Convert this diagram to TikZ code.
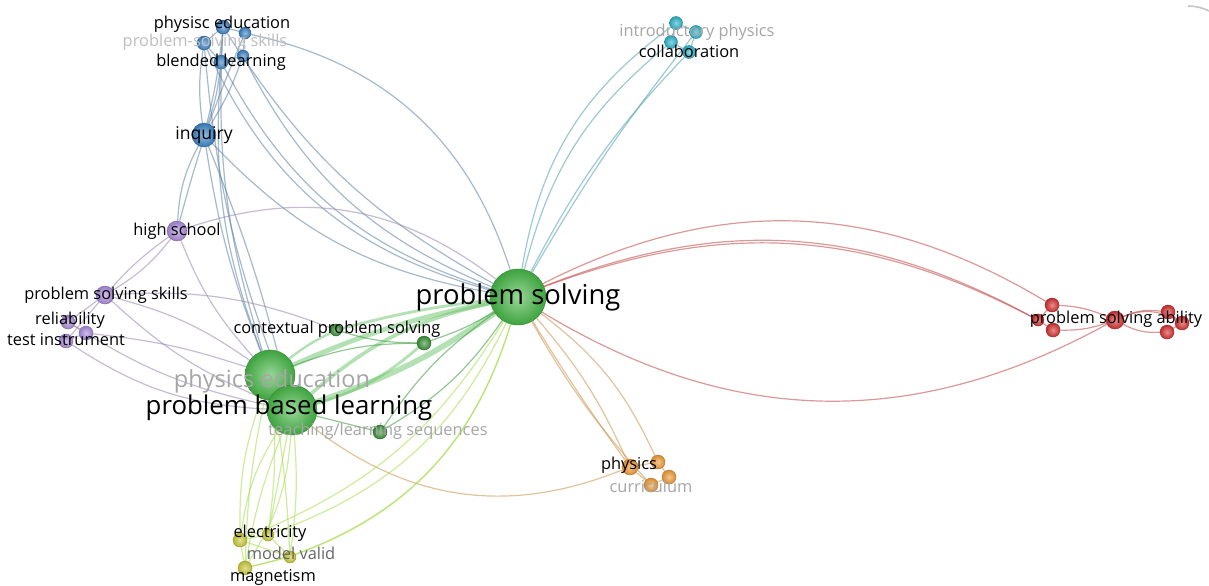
\documentclass[tikz,border=0pt]{standalone}
\usepackage{fontspec}
\setmainfont{Open Sans}
\usepackage{tikz}
\usetikzlibrary{positioning,backgrounds}
\definecolor{vosgreen}{HTML}{45B545}
\definecolor{vosblue}{HTML}{3A82C4}
\definecolor{voscyan}{HTML}{2BB3C9}
\definecolor{vospurple}{HTML}{A98AD9}
\definecolor{vosred}{HTML}{D2302F}
\definecolor{vosorange}{HTML}{EE9A35}
\definecolor{vosyellow}{HTML}{C9C93A}
\colorlet{lgreen}{vosgreen!85!black}
\colorlet{lblue}{vosblue!50!gray}
\colorlet{lcyan}{voscyan!60!gray}
\colorlet{lpurple}{vospurple!60!gray}
\colorlet{lred}{vosred!75!gray}
\colorlet{lorange}{vosorange!70!gray}
\colorlet{lyellow}{vosyellow!75!green!85!white}

\begin{document}
\begin{tikzpicture}[
x=0.5pt,y=0.5pt,
bub/.style={circle,inner sep=0pt,draw=#1!75!black,line width=0.2pt,
inner color=#1!55!white,outer color=#1!90!black},
lab/.style={inner sep=0pt,font=\fontsize{8.2}{9}\selectfont,text=black},
faint/.style={lab,text=gray!70},
lnk/.style={draw=#1,line width=0.6pt,opacity=0.55},
thk/.style={draw=vosgreen!80,line width=#1,opacity=0.5}
]
\useasboundingbox (0,0) rectangle (1209,-585);

\node[bub=vosgreen,minimum size=28pt] (ps) at (518,-297) {};
\node[bub=vosgreen,minimum size=25pt] (pe) at (270,-375) {};
\node[bub=vosgreen,minimum size=25pt] (pbl) at (292,-410) {};
\node[bub=vosgreen!80!black,minimum size=6pt] (cps) at (336,-330) {};
\node[bub=vosgreen!80!black,minimum size=7pt] (ctx) at (424,-343) {};
\node[bub=vosgreen!80!black,minimum size=7pt] (tls) at (380,-432) {};

\node[bub=vosblue,minimum size=12pt] (inq) at (204,-135) {};
\node[bub=vosblue,minimum size=7pt] (phe) at (223,-27) {};
\node[bub=vosblue,minimum size=6pt] (bx) at (245,-33) {};
\node[bub=vosblue,minimum size=7pt] (pss) at (204,-43) {};
\node[bub=vosblue,minimum size=6pt] (by) at (243,-56) {};
\node[bub=vosblue,minimum size=7pt] (bl) at (221,-62) {};

\node[bub=voscyan,minimum size=6.5pt] (ca) at (676,-23) {};
\node[bub=voscyan,minimum size=6.5pt] (ip) at (696,-32) {};
\node[bub=voscyan,minimum size=6.5pt] (cb) at (671,-42) {};
\node[bub=voscyan,minimum size=6.5pt] (col) at (689,-52) {};

\node[bub=vospurple,minimum size=10pt] (hs) at (177,-231) {};
\node[bub=vospurple,minimum size=9pt] (pssk) at (105,-295) {};
\node[bub=vospurple,minimum size=7pt] (rel) at (68,-322) {};
\node[bub=vospurple,minimum size=7pt] (ti) at (66,-341) {};
\node[bub=vospurple,minimum size=7pt] (pz) at (86,-333) {};

\node[bub=vosorange,minimum size=8pt] (phy) at (630,-467) {};
\node[bub=vosorange,minimum size=7pt] (oa) at (658,-462) {};
\node[bub=vosorange,minimum size=7pt] (ob) at (669,-477) {};
\node[bub=vosorange,minimum size=7pt] (cur) at (651,-485) {};

\node[bub=vosred,minimum size=6pt] (r0) at (1038,-320) {};
\node[bub=vosred,minimum size=7pt] (ra) at (1052,-305) {};
\node[bub=vosred,minimum size=7pt] (rb) at (1053,-330) {};
\node[bub=vosred,minimum size=9pt] (psa) at (1115,-320) {};
\node[bub=vosred,minimum size=7pt] (rc) at (1168,-312) {};
\node[bub=vosred,minimum size=7pt] (rd) at (1182,-323) {};
\node[bub=vosred,minimum size=7pt] (re) at (1167,-332) {};

\node[bub=vosyellow,minimum size=7pt] (ele) at (240,-540) {};
\node[bub=vosyellow,minimum size=6pt] (ya) at (268,-535) {};
\node[bub=vosyellow,minimum size=6pt] (mv) at (290,-557) {};
\node[bub=vosyellow,minimum size=7pt] (mag) at (245,-568) {};

\begin{pgfonlayer}{background}
\fill[white] (0,0) rectangle (1209,-585);
\draw[gray!45,line width=0.8pt] (1188,-6) to[bend left=12] (1209,-11);
\draw[thk=2.4pt] (ps) to[bend right=6] (pe);
\draw[thk=2.8pt] (ps) to[bend left=8] (pbl);
\draw[thk=1.8pt] (ps) to[bend right=14] (pbl);
\draw[thk=1.4pt] (ps) to[bend right=4] (cps);
\draw[thk=1.8pt] (pe) to (pbl);
\draw[thk=1.2pt] (pe) to[bend left=6] (cps);
\draw[thk=1.4pt] (pbl) to[bend right=12] (ctx);
\draw[lnk=lgreen] (ps) to[bend left=6] (ctx);
\draw[lnk=lgreen] (ps) to[bend left=12] (tls);
\draw[lnk=lgreen] (ps) to[bend right=10] (tls);
\draw[lnk=lgreen] (pbl) to (tls);
\draw[lnk=lgreen] (pe) to[bend left=10] (ctx);
\draw[lnk=lgreen] (cps) to[bend right=8] (ctx);

\draw[lnk=lblue] (inq) to[bend right=18] (ps);
\draw[lnk=lblue] (bl) to[bend right=22] (ps);
\draw[lnk=lblue] (by) to[bend right=20] (ps);
\draw[lnk=lblue] (pss) to[bend right=25] (ps);
\draw[lnk=lblue] (phe) to[bend right=14] (ps);
\draw[lnk=lblue] (bx) to[bend left=30] (ps);
\draw[lnk=lblue] (bl) to[bend right=12] (pe);
\draw[lnk=lblue] (pss) to[bend right=8] (pbl);
\draw[lnk=lblue] (phe) to[bend right=10] (pe);
\draw[lnk=lblue] (inq) to[bend right=6] (pe);
\draw[lnk=lblue] (inq) to[bend left=4] (pbl);
\draw[lnk=lblue] (bl) to[bend left=6] (inq);
\draw[lnk=lblue] (pss) to[bend right=8] (inq);
\draw[lnk=lblue] (phe) to[bend left=4] (inq);
\draw[lnk=lblue] (by) to[bend left=6] (inq);
\draw[lnk=lblue] (bx) to[bend right=4] (hs);
\draw[lnk=lblue] (phe) to (bx);
\draw[lnk=lblue] (phe) to (pss);
\draw[lnk=lblue] (pss) to (bl);
\draw[lnk=lblue] (bx) to (by);
\draw[lnk=lblue] (by) to (bl);
\draw[lnk=lblue] (phe) to (bl);
\draw[lnk=lblue] (inq) to[bend right=12] (hs);

\draw[lnk=lcyan] (ps) to[bend left=22] (ca);
\draw[lnk=lcyan] (ps) to[bend left=18] (cb);
\draw[lnk=lcyan] (ps) to[bend left=8] (col);
\draw[lnk=lcyan] (ps) to[bend left=4] (ip);
\draw[lnk=lcyan] (ca) to (ip);
\draw[lnk=lcyan] (ca) to (cb);
\draw[lnk=lcyan] (cb) to (col);
\draw[lnk=lcyan] (ip) to (col);

\draw[lnk=lpurple] (hs) to[bend left=28] (ps);
\draw[lnk=lpurple] (hs) to[bend right=10] (pe);
\draw[lnk=lpurple] (hs) to[bend right=6] (pssk);
\draw[lnk=lpurple] (hs) to[bend left=10] (pssk);
\draw[lnk=lpurple] (pssk) to[bend left=10] (pe);
\draw[lnk=lpurple] (pssk) to[bend right=10] (pbl);
\draw[lnk=lpurple] (pssk) to[bend left=12] (cps);
\draw[lnk=lpurple] (pz) to[bend left=6] (pe);
\draw[lnk=lpurple] (rel) to[bend right=10] (pbl);
\draw[lnk=lpurple] (ti) to[bend right=15] (pbl);
\draw[lnk=lpurple] (pssk) to (rel);
\draw[lnk=lpurple] (pssk) to (ti);
\draw[lnk=lpurple] (rel) to (pz);
\draw[lnk=lpurple] (ti) to (pz);

\draw[lnk=lorange] (ps) to[bend left=8] (phy);
\draw[lnk=lorange] (ps) to[bend left=14] (oa);
\draw[lnk=lorange] (ps) to[bend right=6] (cur);
\draw[lnk=lorange] (ps) to[bend right=2] (phy);
\draw[lnk=lorange] (pbl) to[bend right=30] (phy);
\draw[lnk=lorange] (phy) to (oa);
\draw[lnk=lorange] (oa) to (ob);
\draw[lnk=lorange] (ob) to (cur);
\draw[lnk=lorange] (phy) to (cur);

\draw[lnk=lred] (ps) to[bend left=29] (ra);
\draw[lnk=lred] (ps) to[bend left=25] (r0);
\draw[lnk=lred] (ps) to[bend left=24] (r0);
\draw[lnk=lred] (ps) to[bend right=30] (psa);
\draw[lnk=lred] (ra) to[bend left=10] (psa);
\draw[lnk=lred] (rb) to[bend right=10] (psa);
\draw[lnk=lred] (r0) to (ra);
\draw[lnk=lred] (r0) to (rb);
\draw[lnk=lred] (psa) to[bend left=15] (rc);
\draw[lnk=lred] (psa) to[bend right=15] (re);
\draw[lnk=lred] (psa) to[bend left=25] (rd);
\draw[lnk=lred] (rc) to (rd);
\draw[lnk=lred] (re) to (rd);

\draw[lnk=lyellow] (ps) to[bend left=18] (ele);
\draw[lnk=lyellow] (ps) to[bend left=22] (ya);
\draw[lnk=lyellow] (ps) to[bend left=26] (mv);
\draw[lnk=lyellow] (ps) to[bend left=30] (mag);
\draw[lnk=lyellow] (pe) to[bend right=10] (ele);
\draw[lnk=lyellow] (pe) to[bend right=5] (mag);
\draw[lnk=lyellow] (pe) to[bend left=6] (ya);
\draw[lnk=lyellow] (pe) to[bend left=3] (mv);
\draw[lnk=lyellow] (pbl) to[bend right=12] (ele);
\draw[lnk=lyellow] (pbl) to[bend right=6] (mag);
\draw[lnk=lyellow] (pbl) to (ya);
\draw[lnk=lyellow] (pbl) to[bend left=6] (mv);
\draw[lnk=lyellow] (pbl) to[bend left=14] (mag);
\draw[lnk=lyellow] (ele) to (ya);
\draw[lnk=lyellow] (ele) to (mag);
\draw[lnk=lyellow] (ya) to (mv);
\draw[lnk=lyellow] (mv) to (mag);
\draw[lnk=lyellow] (ele) to (mv);
\end{pgfonlayer}

\node[lab,font=\fontsize{13.7}{15}\selectfont] (ps-l) at (518,-297) {problem solving};
\node[faint,font=\fontsize{11.8}{13}\selectfont] (pe-l) at (272,-381) {physics education};
\node[lab,font=\fontsize{12.9}{14}\selectfont] (pbl-l) at (289,-408) {problem based learning};
\node[lab] (cps-l) at (337,-329) {contextual problem solving};
\node[faint] (tls-l) at (378,-431) {teaching/learning sequences};
\node[lab,font=\fontsize{8.8}{10}\selectfont] (inq-l) at (204,-135) {inquiry};
\node[lab] (phe-l) at (222,-24) {physisc education};
\node[faint,text=gray!50] (pss-l) at (205,-42) {problem-solving skills};
\node[lab] (bl-l) at (221,-62) {blended learning};
\node[faint] (ip-l) at (697,-32) {introductory physics};
\node[lab] (col-l) at (689,-51) {collaboration};
\node[lab] (hs-l) at (177,-231) {high school};
\node[lab] (pssk-l) at (106,-295) {problem solving skills};
\node[lab] (rel-l) at (70,-320) {reliability};
\node[lab] (ti-l) at (66,-340) {test instrument};
\node[lab] (phy-l) at (629,-465) {physics};
\node[faint] (cur-l) at (651,-486) {curriculum};
\node[lab] (psa-l) at (1116,-319) {problem solving ability};
\node[lab] (ele-l) at (270,-533) {electricity};
\node[lab,text=gray!80!black] (mv-l) at (291,-553) {model valid};
\node[lab] (mag-l) at (273,-577) {magnetism};
\end{tikzpicture}
\end{document}
